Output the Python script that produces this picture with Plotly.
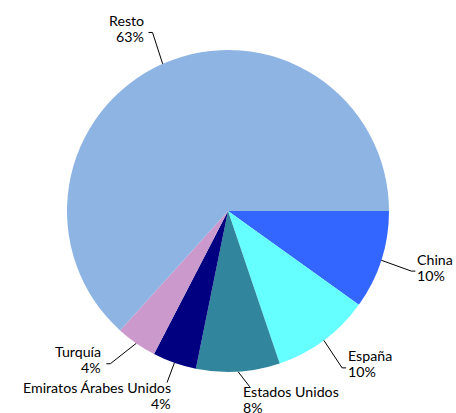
import math
import plotly.graph_objects as go

countries = ["China", "España", "Estados Unidos", "Emiratos Árabes Unidos", "Turquía", "Resto"]
shares = [9.9, 9.9, 8.4, 4.4, 4.1, 63.3]
colors = ["#3366FF", "#66FFFF", "#31859C", "#000080", "#CC99CC", "#8EB4E3"]

# label styling (not data): leader length (px), leader turn from slice middle (deg), placement
leader_len = [32, 33, 19, 21, 33, 33]
leader_turn = [2, 3, -34, 1, 17, 6]
placement = ["right", "right", "below-right", "below-left", "left", "left"]

W, H = 456, 413
cx, cy, R = 228, 211, 161
FONT = dict(family="Lato", size=14.2, color="black")

def px(x, y):
    return x / W, 1 - y / H

fig = go.Figure(go.Pie(
    labels=countries, values=shares, sort=False, direction="clockwise",
    rotation=90, marker=dict(colors=colors, line=dict(width=0)),
    textinfo="none", hoverinfo="label+percent", showlegend=False,
    domain=dict(x=[(cx - R) / W, (cx + R) / W], y=[(H - cy - R) / H, (H - cy + R) / H]),
))

total = sum(shares)
cum = 0.0
shapes, annotations = [], []

def add_text(t, x, y, xa):
    xp, yp = px(x, y)
    annotations.append(dict(text=t, x=xp, y=yp, xref="paper", yref="paper",
                            xanchor=xa, yanchor="middle", align=xa, showarrow=False,
                            borderpad=0, font=FONT))

for name, v, L, turn, pl in zip(countries, shares, leader_len, leader_turn, placement):
    mid = (cum + v / 2) / total * 2 * math.pi
    cum += v
    pct = f"{round(v / total * 100)}%"
    x0, y0 = cx + R * math.cos(mid), cy + R * math.sin(mid)
    a = mid + math.radians(turn)
    x1, y1 = x0 + L * math.cos(a), y0 + L * math.sin(a)
    pts = [(x0, y0), (x1, y1)]
    if pl == "right":
        pts.append((x1 + 4, y1))
        add_text(name, x1 + 5, y1 - 12, "left")
        add_text(pct, x1 + 5, y1 + 4, "left")
    elif pl == "left":
        pts.append((x1 - 4, y1))
        add_text(name, x1 - 8, y1 - 12, "right")
        add_text(pct, x1 - 8, y1 + 4, "right")
    elif pl == "below-right":
        add_text(name, x1 - 8, y1 + 5, "left")
        add_text(pct, x1 - 8, y1 + 21, "left")
    else:
        add_text(name, x1 + 5, y1 + 5, "right")
        add_text(pct, x1 + 5, y1 + 21, "right")
    p = [px(*q) for q in pts]
    path = "M " + " L ".join(f"{a_},{b_}" for a_, b_ in p)
    shapes.append(dict(type="path", path=path, xref="paper", yref="paper",
                       line=dict(color="black", width=1)))

fig.update_layout(width=W, height=H, margin=dict(l=0, r=0, t=0, b=0),
                  paper_bgcolor="white", plot_bgcolor="white",
                  shapes=shapes, annotations=annotations)
fig.write_html("out.html", config={"displayModeBar": False},
               post_script="document.body.style.margin='0';document.body.style.overflow='hidden';")
